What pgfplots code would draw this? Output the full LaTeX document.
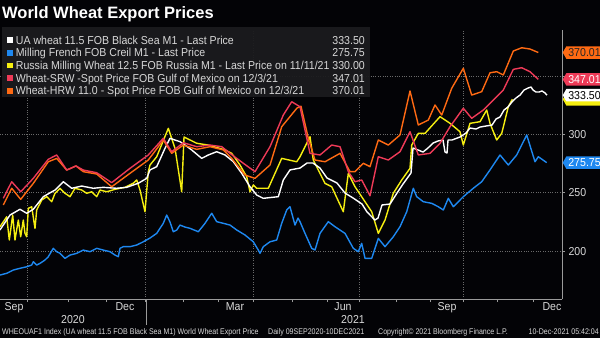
\documentclass[border=0pt]{standalone}
\usepackage{pgfplots}
\pgfplotsset{compat=1.18}
\usepackage{fontspec}
\setmainfont{Liberation Sans}[FakeStretch=0.92]
\newfontfamily\titlefont{Liberation Sans}[FakeStretch=1.0]
\newfontfamily\footfont{Liberation Sans}[FakeStretch=0.86]
\usetikzlibrary{shapes.symbols}
\definecolor{bg}{HTML}{030306}
\definecolor{bbblue}{HTML}{1E88F0}
\definecolor{bbyellow}{HTML}{F5EE10}
\definecolor{bbred}{HTML}{EE3A57}
\definecolor{bborange}{HTML}{FF6A13}
\definecolor{gridc}{HTML}{6A6A6A}
\definecolor{axc}{HTML}{9A9A9A}
\definecolor{legbg}{HTML}{1B1B1E}
\definecolor{txt}{HTML}{D8D8D8}
\newcommand{\tf}{\fontsize{11.5bp}{13bp}\selectfont}
\newcommand{\ff}{\footfont\fontsize{8.2bp}{9bp}\selectfont}
\tikzset{flag/.style={shape=signal, signal to=west, signal pointer angle=120, fill=#1, inner xsep=2bp, inner ysep=1.2bp, minimum height=12.5bp, font=\tf, anchor=west}}
\begin{document}
\begin{tikzpicture}[x=1bp,y=1bp]
\fill[bg] (0,0) rectangle (600,338);
\begin{axis}[
  at={(0bp,39bp)}, anchor=south west,
  scale only axis, width=562bp, height=269bp,
  xmin=0, xmax=562, ymin=159, ymax=389.3,
  axis x line*=bottom, axis y line*=right,
  axis line style={draw=axc, line width=0.8bp},
  xtick={27,145,253,359,463},
  minor xtick={68,106,183,218,292,327,396,430,497,533},
  xticklabels={},
  ytick={200,250,300,350},
  yticklabels={200,250,300,{}},
  tick align=outside,
  major tick length=3bp, minor tick length=3bp,
  tick style={draw=axc, line width=0.6bp},
  xmajorgrids, ymajorgrids,
  grid style={draw=gridc, dotted, line width=0.6bp},
  yticklabel style={font=\tf, text=txt},
  clip=false,
  every axis plot/.append style={line width=1.4bp, line join=round},
]
% Milling French FOB Creil M1
\addplot[draw=bbblue] coordinates {(0,179.5)(6.7,181.0)(13.3,183.8)(20,185.3)(26.7,186.6)(31.7,188.1)(33.3,190.9)(36.7,188.1)(40,189.5)(45,192.4)(48.3,195.2)(53.3,202.4)(56.7,199.5)(60,198.1)(65,193.8)(70,196.6)(76.7,198.1)(83.3,200.9)(90,199.5)(96.7,202.4)(103.3,200.9)(110,199.5)(115,196.6)(118.3,195.2)(120,202.4)(123.3,203.8)(130,203.8)(136.7,205.2)(143.3,208.0)(150,211.2)(156.7,215.2)(163.3,223.8)(166.7,230.9)(170,224.9)(173.3,216.6)(176.7,218.0)(180,222.3)(185,220.6)(190,219.5)(198.3,216.6)(205,223.8)(211.7,232.4)(216.7,225.2)(223.3,223.8)(230,222.3)(236.7,218.1)(245,213.8)(253.3,208.0)(258.3,200.9)(260,198.1)(263.3,203.8)(270,208.0)(276.7,209.5)(281.7,223.8)(286.7,235.2)(290,238.0)(295,222.3)(298,228.3)(300,225.2)(305,215.2)(311.7,202.4)(315,200.9)(320,215.2)(328.3,225.2)(335,220.9)(345,215.2)(353.3,202.4)(358.3,199.5)(361.7,206.7)(365,193.8)(371.7,193.8)(378.3,210.9)(385,203.8)(393.3,212.3)(400,220.9)(406.7,233.7)(413.3,253.8)(416.7,246.6)(423.3,242.3)(431.7,240.9)(438.3,238.0)(443.3,235.2)(448.3,245.2)(453.3,238.0)(463.3,246.6)(473.3,253.8)(481.7,259.4)(490,269.5)(500,282.3)(508.3,273.7)(516.7,282.3)(526.7,299.4)(535,276.5)(538.3,280.8)(546.7,275.75)};
% Russia Milling Wheat
\addplot[draw=bbyellow] coordinates {(0,220.9)(6.7,229.4)(9.3,209.5)(12.7,230.9)(15,209.5)(18.3,226.6)(20.7,212.3)(23.3,226.6)(25,215.2)(26.7,212.3)(28.3,236.6)(31.7,238.0)(35,219.5)(36.7,235.2)(41.7,243.7)(46.7,246.6)(51.7,242.3)(55,249.5)(60,253.8)(65,249.5)(70,246.6)(75,253.8)(81.7,252.3)(86.7,249.5)(91.7,250.8)(96.7,246.6)(100,252.3)(106.7,250.8)(115,252.9)(125,254.6)(133.3,258.1)(136.7,260.9)(140,252.3)(145,233.7)(148.3,268.0)(150,273.7)(156.7,280.8)(168.3,305.1)(175,288.0)(181.7,250.8)(184,297.7)(196.7,292.3)(208.3,290.8)(225,286.6)(231.7,283.7)(240,273.7)(246.7,263.7)(250,250.8)(253.3,256.6)(256.7,253.8)(268.3,253.8)(281.7,279.4)(296.7,276.5)(300,280.8)(306.7,292.3)(310,297.9)(313.3,278.0)(325,258.0)(331.7,255.1)(343.3,233.7)(348.3,266.6)(355,255.1)(365,242.3)(371.7,233.7)(378.3,215.2)(385,226.6)(393.3,249.5)(401.7,260.9)(410,270.9)(411.7,290.8)(418.3,300.8)(425,300.8)(440,315.1)(450,309.4)(460,302.2)(463.3,290.8)(470,309.4)(480,310.8)(486.7,320.8)(490,309.4)(496.7,295.1)(501.7,300.8)(508.3,323.6)(512.3,330.0)};
% UA wheat 11.5 FOB Black Sea
\addplot[draw=white] coordinates {(0,218.1)(10,230.9)(20,235.8)(26.7,232.4)(33.3,235.8)(43.3,246.6)(55,252.3)(63.3,259.4)(71.7,253.8)(81.7,255.7)(93.3,253.8)(103.3,254.6)(116.7,253.8)(126.7,254.6)(138.3,258.1)(146.7,262.3)(150,269.5)(156.7,272.3)(165,288.0)(170,296.6)(175,295.1)(180,293.7)(185,290.8)(191.7,286.6)(201.7,279.4)(208.3,282.3)(216.7,285.1)(225,282.3)(233.3,276.6)(241.7,266.6)(250,255.1)(256.7,248.0)(263.3,245.2)(278.3,246.6)(283.3,260.9)(290,269.5)(300,271.1)(307,275.4)(313,275.4)(320,271.1)(327,262.6)(337,258.3)(345,249.7)(353,245.5)(362,240.3)(367,233.5)(375,226.6)(378,228.3)(382,239.5)(390,240.3)(397,249.7)(403,257.4)(411,266.9)(413,288.3)(418,286.6)(423,284.8)(428,288.3)(433,292.5)(438,294.3)(443,295.1)(445,284.8)(447,284.0)(448,295.1)(452,295.1)(460,297.7)(466,301.1)(470,305.4)(476,304.5)(480,306.2)(486,307.1)(492,307.9)(496,313.1)(500,314.8)(504,320.8)(508,323.4)(512,327.7)(516,331.1)(520,333.6)(524,337.9)(528,339.6)(531,340.5)(533,337.9)(536,336.2)(539,336.2)(542,337.1)(545,335.4)(547,333.5)};
% Wheat-HRW 11.0
\addplot[draw=bborange] coordinates {(3.3,239.5)(11.7,253.8)(20.7,244.3)(33.3,258.0)(48.3,276.5)(56.7,279.4)(66.7,269.4)(76,272.9)(83.3,268.0)(96.7,266.0)(111.7,255.1)(130,266.6)(148.3,278.0)(163.3,295.1)(171.7,283.7)(183.3,290.8)(196.7,287.1)(210,289.4)(223.3,286.6)(231.7,279.4)(245,265.1)(255,262.3)(270,273.7)(281.7,306.5)(297,322.5)(301,324.0)(308.3,296.6)(315,278.0)(325,276.5)(340,283.7)(350,268.0)(355,268.0)(363.3,275.2)(370,272.3)(378.3,295.1)(388.3,290.8)(400,299.4)(410,337.1)(418.3,308.0)(428.3,312.2)(435,325.1)(441.7,316.5)(451.7,339.4)(463.3,356.5)(471.7,333.6)(481.7,336.5)(490,352.7)(496.7,353.6)(503.3,350.8)(513.3,371.3)(521.7,374.1)(530,373.0)(538.3,370.01)};
% Wheat-SRW
\addplot[draw=bbred] coordinates {(3.3,245.2)(11.7,259.4)(20.7,250.8)(33.3,262.3)(48.3,278.6)(56.7,282.3)(66.7,269.4)(76,272.9)(83.3,269.4)(96.7,267.1)(111.7,258.6)(130,270.9)(148.3,282.3)(163.3,296.6)(171.7,285.1)(183.3,292.8)(196.7,289.4)(210,290.8)(221.7,289.4)(230,283.7)(243.3,275.2)(255,268.0)(270,289.4)(283.3,316.5)(291.7,327.9)(300,323.6)(310,283.7)(320,282.3)(331.7,290.8)(340,289.4)(348.3,268.0)(355,259.4)(361.7,260.9)(370,247.4)(378.3,280.8)(388.3,278.0)(400,285.1)(410,302.2)(418.3,282.3)(430,283.7)(440,292.3)(450,306.5)(463.3,322.3)(471.7,313.7)(483.3,320.8)(493.3,329.4)(503.3,337.9)(513.3,355.6)(521.7,357.0)(530,353.6)(538.3,347.01)};
% value flags
\node[flag=bborange, text=black!85] at (axis cs:562.5,370.01) {370.01};
\node[flag=bbred, text=white] at (axis cs:562.5,347.01) {347.01};
\node[flag=bbyellow, text=black] at (axis cs:562.5,330.0) {\phantom{330.00}};
\node[flag=white, text=black] at (axis cs:562.5,333.5) {333.50};
\node[flag=bbblue, text=white] at (axis cs:562.5,275.75) {275.75};
\end{axis}
% year separator
\draw[axc, line width=0.7bp] (146,39) -- (146,13);
% month labels
\begin{scope}[every node/.style={font=\tf, text=txt, anchor=base, inner sep=0}]
\node at (14,28) {Sep};
\node at (125,28) {Dec};
\node at (235,28) {Mar};
\node at (343,28) {Jun};
\node at (447,28) {Sep};
\node at (552,28) {Dec};
\node at (73,14.5) {2020};
\node at (353,14.5) {2021};
\end{scope}
% footer
\begin{scope}[every node/.style={font=\ff, text=txt, inner sep=0, anchor=base west}]
\node at (2,4) {WHEOUAF1 Index (UA wheat 11.5 FOB Black Sea M1) World Wheat Export Price};
\node at (268,4) {Daily 09SEP2020-10DEC2021};
\node at (378,4) {Copyright\textcopyright{} 2021 Bloomberg Finance L.P.};
\node[anchor=base east] at (599,4) {10-Dec-2021 05:42:04};
\end{scope}
% legend
\fill[legbg, opacity=0.95] (2,241) rectangle (370,311.5);
\begin{scope}[every node/.style={font=\tf, text=txt, inner sep=0}]
\fill[white] (7,295.2) rectangle +(5.5,5.5);
\node[anchor=base west] at (15.7,293.8) {UA wheat 11.5 FOB Black Sea M1 - Last Price};
\node[anchor=base east] at (365,293.8) {333.50};
\fill[bbblue] (7,282.5) rectangle +(5.5,5.5);
\node[anchor=base west] at (15.7,281.1) {Milling French FOB Creil M1 - Last Price};
\node[anchor=base east] at (365,281.1) {275.75};
\fill[bbyellow] (7,269.9) rectangle +(5.5,5.5);
\node[anchor=base west] at (15.7,268.5) {Russia Milling Wheat 12.5 FOB Russia M1 - Last Price on 11/11/21};
\node[anchor=base east] at (365,268.5) {330.00};
\fill[bbred] (7,257.2) rectangle +(5.5,5.5);
\node[anchor=base west] at (15.7,255.8) {Wheat-SRW -Spot Price FOB Gulf of Mexico on 12/3/21};
\node[anchor=base east] at (365,255.8) {347.01};
\fill[bborange] (7,244.5) rectangle +(5.5,5.5);
\node[anchor=base west] at (15.7,243.1) {Wheat-HRW 11.0 - Spot Price FOB Gulf of Mexico on 12/3/21};
\node[anchor=base east] at (365,243.1) {370.01};
\end{scope}
% title
\node[font=\titlefont\bfseries\fontsize{16.5bp}{18bp}\selectfont, text=white, anchor=base west, inner sep=0] at (2,319.7) {World Wheat Export Prices};
\pgfresetboundingbox
\useasboundingbox (0,0) rectangle (600,338);
\end{tikzpicture}
\end{document}
